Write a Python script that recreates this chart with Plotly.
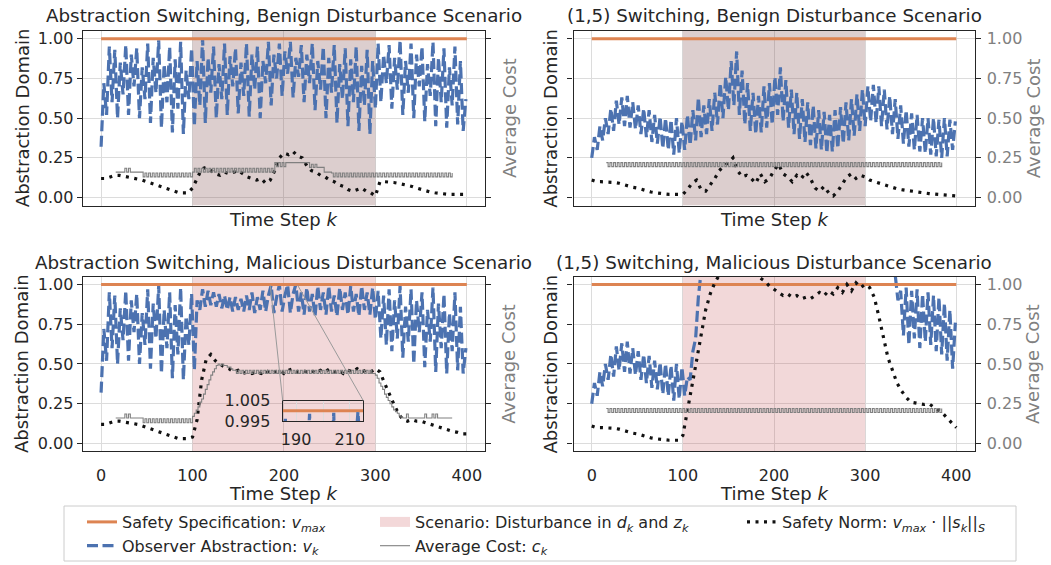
import plotly.graph_objects as go

# ---------------- data ----------------
k_blue = list(range(0, 401, 3))      # observer abstraction sampled every 3 steps
k_norm = list(range(0, 401, 5))      # safety norm sampled every 5 steps
k_cost = list(range(16, 385, 2))     # average cost sampled every 2 steps
spec_k = [0, 400]
spec_v = [1.0, 1.0]
scenario_k = [100, 300]
x_ticks = [0, 100, 200, 300, 400]
y_ticks = [0.0, 0.25, 0.5, 0.75, 1.0]
y_ticktext = ["0.00", "0.25", "0.50", "0.75", "1.00"]
inset_x_ticks = [190, 210]
inset_x_text = ["190", "210"]
inset_x_grid = [190, 200, 210]
inset_y_ticks = [0.995, 1.005]
inset_y_text = ["0.995", "1.005"]

blue_as_benign = [
    0.32, 0.72, 0.52, 0.95, 0.60, 0.93, 0.50, 0.85, 0.65, 0.96,
    0.52, 0.90, 0.70, 0.94, 0.50, 0.82, 0.62, 0.97, 0.47, 0.88,
    0.66, 0.99, 0.44, 0.84, 0.60, 0.95, 0.41, 0.87, 0.56, 0.98,
    0.40, 0.80, 0.62, 0.94, 0.45, 0.86, 0.58, 1.00, 0.47, 0.88,
    0.66, 0.95, 0.50, 0.84, 0.62, 0.97, 0.52, 0.89, 0.70, 0.94,
    0.53, 0.85, 0.64, 0.97, 0.51, 0.90, 0.68, 0.95, 0.50, 0.86,
    0.72, 0.98, 0.58, 0.90, 0.75, 0.97, 0.64, 0.92, 0.78, 0.98,
    0.63, 0.88, 0.76, 0.96, 0.60, 0.90, 0.72, 0.97, 0.55, 0.86,
    0.68, 0.95, 0.50, 0.88, 0.66, 0.96, 0.47, 0.84, 0.62, 0.94,
    0.45, 0.87, 0.60, 0.95, 0.42, 0.83, 0.58, 0.93, 0.40, 0.86,
    0.56, 0.97, 0.60, 0.90, 0.72, 0.96, 0.56, 0.88, 0.68, 0.99,
    0.52, 0.86, 0.66, 0.97, 0.50, 0.90, 0.70, 0.95, 0.48, 0.84,
    0.64, 0.98, 0.45, 0.88, 0.60, 0.94, 0.44, 0.82, 0.58, 0.95,
    0.46, 0.86, 0.42, 0.62,
]
blue_15_benign = [
    0.25, 0.38, 0.30, 0.45, 0.36, 0.50, 0.40, 0.56, 0.42, 0.61,
    0.46, 0.63, 0.45, 0.64, 0.44, 0.60, 0.43, 0.58, 0.40, 0.56,
    0.38, 0.55, 0.35, 0.52, 0.34, 0.51, 0.31, 0.50, 0.30, 0.49,
    0.27, 0.50, 0.28, 0.48, 0.30, 0.52, 0.33, 0.55, 0.36, 0.63,
    0.38, 0.58, 0.40, 0.62, 0.42, 0.66, 0.46, 0.72, 0.50, 0.76,
    0.55, 0.86, 0.58, 0.92, 0.52, 0.80, 0.46, 0.72, 0.42, 0.66,
    0.40, 0.64, 0.41, 0.70, 0.44, 0.72, 0.46, 0.76, 0.52, 0.82,
    0.48, 0.74, 0.44, 0.68, 0.40, 0.66, 0.37, 0.62, 0.35, 0.60,
    0.33, 0.58, 0.31, 0.55, 0.30, 0.54, 0.28, 0.52, 0.29, 0.55,
    0.31, 0.57, 0.34, 0.60, 0.36, 0.62, 0.39, 0.65, 0.42, 0.68,
    0.45, 0.70, 0.48, 0.71, 0.47, 0.70, 0.45, 0.68, 0.43, 0.64,
    0.40, 0.62, 0.37, 0.58, 0.34, 0.55, 0.32, 0.53, 0.30, 0.52,
    0.29, 0.50, 0.28, 0.50, 0.27, 0.50, 0.26, 0.49, 0.25, 0.50,
    0.26, 0.49, 0.30, 0.48,
]
blue_as_malicious = [
    0.32, 0.72, 0.52, 0.95, 0.60, 0.93, 0.50, 0.85, 0.65, 0.96,
    0.52, 0.90, 0.70, 0.94, 0.50, 0.82, 0.62, 0.97, 0.47, 0.88,
    0.66, 0.99, 0.44, 0.84, 0.60, 0.95, 0.41, 0.87, 0.56, 0.98,
    0.40, 0.80, 0.62, 0.94, 0.46, 0.90, 0.84, 0.97, 0.86, 0.96,
    0.87, 0.95, 0.86, 0.94, 0.85, 0.93, 0.84, 0.92, 0.83, 0.92,
    0.84, 0.91, 0.83, 0.93, 0.84, 0.95, 0.82, 0.92, 0.84, 0.96,
    0.83, 0.93, 0.996, 0.82, 0.92, 0.9985, 0.83, 0.93, 0.999, 0.82,
    0.94, 0.9995, 0.83, 0.95, 0.81, 0.98, 0.83, 0.94, 0.80, 0.99,
    0.84, 0.95, 0.81, 0.99, 0.83, 0.93, 0.80, 0.98, 0.84, 0.95,
    0.81, 0.99, 0.83, 0.94, 0.80, 0.99, 0.84, 0.95, 0.81, 0.98,
    0.78, 0.96, 0.66, 0.93, 0.62, 0.97, 0.58, 0.90, 0.66, 0.99,
    0.54, 0.86, 0.64, 0.97, 0.50, 0.90, 0.70, 0.95, 0.48, 0.84,
    0.64, 0.98, 0.45, 0.88, 0.60, 0.94, 0.44, 0.82, 0.58, 0.95,
    0.46, 0.86, 0.44, 0.60,
]
blue_15_malicious = [
    0.25, 0.38, 0.30, 0.45, 0.36, 0.50, 0.40, 0.56, 0.42, 0.61,
    0.46, 0.63, 0.45, 0.64, 0.44, 0.60, 0.43, 0.58, 0.40, 0.56,
    0.38, 0.55, 0.35, 0.52, 0.34, 0.51, 0.31, 0.50, 0.30, 0.49,
    0.27, 0.50, 0.28, 0.48, 0.30, 0.42, 0.40, 0.58, 0.66, 0.92,
    1.08, 1.20, 1.30, 1.38, 1.45, 1.50, 1.55, 1.58, 1.60, 1.62,
    1.64, 1.66, 1.68, 1.70, 1.70, 1.71, 1.72, 1.72, 1.72, 1.72,
    1.72, 1.71, 1.70, 1.70, 1.69, 1.68, 1.66, 1.65, 1.64, 1.62,
    1.60, 1.58, 1.56, 1.55, 1.54, 1.52, 1.50, 1.48, 1.46, 1.45,
    1.44, 1.42, 1.40, 1.39, 1.38, 1.37, 1.36, 1.35, 1.34, 1.33,
    1.32, 1.31, 1.30, 1.29, 1.28, 1.27, 1.26, 1.25, 1.24, 1.23,
    1.22, 1.21, 1.20, 1.19, 1.18, 1.17, 1.16, 1.15, 1.14, 1.12,
    1.12, 1.06, 0.90, 0.96, 0.68, 0.98, 0.62, 0.96, 0.66, 0.97,
    0.60, 0.94, 0.64, 0.95, 0.62, 0.93, 0.58, 0.92, 0.56, 0.88,
    0.52, 0.84, 0.47, 0.76,
]

norm_as_benign = [
    0.12, 0.12, 0.13, 0.14, 0.14, 0.135, 0.13, 0.125, 0.12, 0.11,
    0.10, 0.09, 0.08, 0.065, 0.055, 0.045, 0.035, 0.03, 0.03, 0.03,
    0.06, 0.12, 0.18, 0.19, 0.17, 0.15, 0.14, 0.16, 0.15, 0.16,
    0.17, 0.15, 0.13, 0.12, 0.11, 0.12, 0.09, 0.11, 0.17, 0.25,
    0.28, 0.27, 0.29, 0.26, 0.25, 0.20, 0.17, 0.16, 0.14, 0.13,
    0.11, 0.10, 0.08, 0.07, 0.05, 0.04, 0.05, 0.06, 0.04, 0.03,
    0.01, 0.10, 0.10, 0.10, 0.095, 0.09, 0.085, 0.08, 0.07, 0.06,
    0.05, 0.04, 0.035, 0.03, 0.025, 0.02, 0.02, 0.02, 0.02, 0.02,
    0.02,
]
norm_15_benign = [
    0.11, 0.10, 0.10, 0.10, 0.10, 0.095, 0.09, 0.08, 0.075, 0.065,
    0.06, 0.05, 0.045, 0.035, 0.03, 0.025, 0.02, 0.02, 0.02, 0.02,
    0.02, 0.05, 0.09, 0.11, 0.05, 0.04, 0.08, 0.12, 0.17, 0.20,
    0.22, 0.25, 0.17, 0.13, 0.14, 0.12, 0.09, 0.15, 0.10, 0.12,
    0.17, 0.21, 0.15, 0.13, 0.10, 0.14, 0.12, 0.16, 0.12, 0.06,
    0.04, 0.07, 0.03, 0.01, 0.04, 0.09, 0.13, 0.15, 0.12, 0.14,
    0.13, 0.11, 0.10, 0.09, 0.08, 0.07, 0.065, 0.055, 0.05, 0.045,
    0.04, 0.035, 0.03, 0.028, 0.025, 0.022, 0.02, 0.018, 0.015, 0.012,
    0.01,
]
norm_as_malicious = [
    0.12, 0.12, 0.13, 0.14, 0.14, 0.135, 0.13, 0.125, 0.12, 0.11,
    0.10, 0.09, 0.08, 0.065, 0.055, 0.045, 0.035, 0.03, 0.03, 0.03,
    0.04, 0.15, 0.40, 0.53, 0.56, 0.52, 0.50, 0.48, 0.47, 0.45,
    0.46, 0.44, 0.45, 0.44, 0.45, 0.44, 0.46, 0.44, 0.45, 0.46,
    0.44, 0.46, 0.47, 0.45, 0.46, 0.45, 0.46, 0.44, 0.46, 0.45,
    0.47, 0.45, 0.46, 0.44, 0.46, 0.45, 0.47, 0.45, 0.46, 0.45,
    0.47, 0.45, 0.38, 0.31, 0.25, 0.19, 0.15, 0.14, 0.15, 0.14,
    0.14, 0.13, 0.12, 0.11, 0.10, 0.09, 0.08, 0.075, 0.07, 0.06,
    0.06,
]
norm_15_malicious = [
    0.11, 0.10, 0.10, 0.10, 0.10, 0.095, 0.09, 0.08, 0.075, 0.065,
    0.06, 0.05, 0.045, 0.035, 0.03, 0.025, 0.02, 0.02, 0.02, 0.02,
    0.05, 0.20, 0.36, 0.52, 0.68, 0.84, 0.94, 1.01, 1.06, 1.10,
    1.14, 1.17, 1.19, 1.19, 1.16, 1.12, 1.08, 1.04, 1.02, 0.99,
    0.97, 0.95, 0.93, 0.94, 0.92, 0.93, 0.91, 0.92, 0.91, 0.93,
    0.95, 0.93, 0.96, 0.94, 0.98, 0.95, 1.00, 0.96, 1.01, 0.98,
    1.00, 0.98, 0.92, 0.80, 0.66, 0.54, 0.46, 0.38, 0.33, 0.29,
    0.26, 0.255, 0.25, 0.245, 0.25, 0.23, 0.21, 0.19, 0.16, 0.13,
    0.10,
]

cost_as_benign = [
    0.16, 0.16, 0.16, 0.16, 0.16, 0.185, 0.16, 0.185, 0.16, 0.16,
    0.16, 0.16, 0.16, 0.16, 0.16, 0.13, 0.155, 0.13, 0.155, 0.13,
    0.155, 0.13, 0.155, 0.13, 0.155, 0.13, 0.155, 0.13, 0.155, 0.13,
    0.155, 0.13, 0.155, 0.13, 0.155, 0.13, 0.155, 0.13, 0.155, 0.13,
    0.155, 0.13, 0.16, 0.185, 0.16, 0.185, 0.16, 0.185, 0.16, 0.185,
    0.16, 0.185, 0.16, 0.185, 0.16, 0.185, 0.16, 0.185, 0.16, 0.185,
    0.16, 0.185, 0.16, 0.185, 0.16, 0.185, 0.16, 0.185, 0.16, 0.185,
    0.16, 0.185, 0.16, 0.185, 0.16, 0.185, 0.16, 0.185, 0.16, 0.185,
    0.16, 0.185, 0.16, 0.185, 0.16, 0.185, 0.16, 0.22, 0.195, 0.22,
    0.195, 0.22, 0.195, 0.22, 0.22, 0.22, 0.22, 0.22, 0.22, 0.22,
    0.22, 0.22, 0.22, 0.22, 0.22, 0.22, 0.19, 0.21, 0.19, 0.21,
    0.19, 0.19, 0.19, 0.19, 0.16, 0.16, 0.16, 0.16, 0.155, 0.13,
    0.155, 0.13, 0.155, 0.13, 0.155, 0.13, 0.155, 0.13, 0.155, 0.13,
    0.155, 0.13, 0.155, 0.13, 0.155, 0.13, 0.155, 0.13, 0.155, 0.13,
    0.155, 0.13, 0.155, 0.13, 0.155, 0.13, 0.155, 0.13, 0.155, 0.13,
    0.155, 0.13, 0.155, 0.13, 0.155, 0.13, 0.155, 0.13, 0.155, 0.13,
    0.155, 0.13, 0.155, 0.13, 0.155, 0.13, 0.155, 0.13, 0.155, 0.13,
    0.155, 0.13, 0.155, 0.13, 0.155, 0.13, 0.155, 0.13, 0.155, 0.13,
    0.155, 0.13, 0.155, 0.13, 0.155,
]
cost_15_benign = [
    0.22, 0.195, 0.22, 0.195, 0.22, 0.195, 0.22, 0.195, 0.22, 0.195,
    0.22, 0.195, 0.22, 0.195, 0.22, 0.195, 0.22, 0.195, 0.22, 0.195,
    0.22, 0.195, 0.22, 0.195, 0.22, 0.195, 0.22, 0.195, 0.22, 0.195,
    0.22, 0.195, 0.22, 0.195, 0.22, 0.195, 0.22, 0.195, 0.22, 0.195,
    0.22, 0.195, 0.22, 0.195, 0.22, 0.195, 0.22, 0.195, 0.22, 0.195,
    0.22, 0.195, 0.22, 0.195, 0.22, 0.195, 0.22, 0.195, 0.22, 0.195,
    0.22, 0.195, 0.22, 0.195, 0.22, 0.195, 0.22, 0.195, 0.22, 0.195,
    0.22, 0.195, 0.22, 0.195, 0.22, 0.195, 0.22, 0.195, 0.22, 0.195,
    0.22, 0.195, 0.22, 0.195, 0.22, 0.195, 0.22, 0.195, 0.22, 0.195,
    0.22, 0.195, 0.22, 0.195, 0.22, 0.195, 0.22, 0.195, 0.22, 0.195,
    0.22, 0.195, 0.22, 0.195, 0.22, 0.195, 0.22, 0.195, 0.22, 0.195,
    0.22, 0.195, 0.22, 0.195, 0.22, 0.195, 0.22, 0.195, 0.22, 0.195,
    0.22, 0.195, 0.22, 0.195, 0.22, 0.195, 0.22, 0.195, 0.22, 0.195,
    0.22, 0.195, 0.22, 0.195, 0.22, 0.195, 0.22, 0.195, 0.22, 0.195,
    0.22, 0.195, 0.22, 0.195, 0.22, 0.195, 0.22, 0.195, 0.22, 0.195,
    0.22, 0.195, 0.22, 0.195, 0.22, 0.195, 0.22, 0.195, 0.22, 0.195,
    0.22, 0.195, 0.22, 0.195, 0.22, 0.195, 0.22, 0.195, 0.22, 0.195,
    0.22, 0.195, 0.22, 0.195, 0.22, 0.195, 0.22, 0.195, 0.22, 0.195,
    0.22, 0.195, 0.22, 0.195, 0.22,
]
cost_as_malicious = [
    0.16, 0.16, 0.16, 0.16, 0.16, 0.185, 0.16, 0.185, 0.16, 0.16,
    0.16, 0.16, 0.16, 0.16, 0.16, 0.13, 0.155, 0.13, 0.155, 0.13,
    0.155, 0.13, 0.155, 0.13, 0.155, 0.13, 0.155, 0.13, 0.155, 0.13,
    0.155, 0.13, 0.155, 0.13, 0.155, 0.13, 0.155, 0.13, 0.155, 0.13,
    0.155, 0.13, 0.17, 0.19, 0.21, 0.23, 0.26, 0.28, 0.31, 0.34,
    0.37, 0.40, 0.43, 0.45, 0.47, 0.49, 0.50, 0.49, 0.50, 0.49,
    0.49, 0.48, 0.48, 0.47, 0.46, 0.46, 0.44, 0.46, 0.44, 0.46,
    0.44, 0.46, 0.44, 0.46, 0.44, 0.46, 0.44, 0.46, 0.44, 0.46,
    0.44, 0.46, 0.44, 0.46, 0.44, 0.46, 0.44, 0.46, 0.44, 0.46,
    0.44, 0.46, 0.44, 0.46, 0.44, 0.46, 0.44, 0.46, 0.44, 0.46,
    0.44, 0.46, 0.44, 0.46, 0.44, 0.46, 0.44, 0.46, 0.44, 0.46,
    0.44, 0.46, 0.44, 0.46, 0.44, 0.46, 0.44, 0.46, 0.44, 0.46,
    0.44, 0.46, 0.44, 0.46, 0.44, 0.46, 0.44, 0.46, 0.44, 0.46,
    0.44, 0.46, 0.44, 0.46, 0.44, 0.46, 0.44, 0.46, 0.44, 0.46,
    0.44, 0.44, 0.43, 0.41, 0.38, 0.36, 0.34, 0.31, 0.29, 0.27,
    0.25, 0.23, 0.21, 0.20, 0.19, 0.175, 0.165, 0.16, 0.16, 0.185,
    0.16, 0.16, 0.16, 0.16, 0.16, 0.16, 0.16, 0.16, 0.16, 0.185,
    0.16, 0.16, 0.16, 0.185, 0.16, 0.185, 0.16, 0.16, 0.16, 0.16,
    0.16, 0.16, 0.16, 0.16, 0.16,
]
cost_15_malicious = [
    0.22, 0.195, 0.22, 0.195, 0.22, 0.195, 0.22, 0.195, 0.22, 0.195,
    0.22, 0.195, 0.22, 0.195, 0.22, 0.195, 0.22, 0.195, 0.22, 0.195,
    0.22, 0.195, 0.22, 0.195, 0.22, 0.195, 0.22, 0.195, 0.22, 0.195,
    0.22, 0.195, 0.22, 0.195, 0.22, 0.195, 0.22, 0.195, 0.22, 0.195,
    0.22, 0.195, 0.22, 0.195, 0.22, 0.195, 0.22, 0.195, 0.22, 0.195,
    0.22, 0.195, 0.22, 0.195, 0.22, 0.195, 0.22, 0.195, 0.22, 0.195,
    0.22, 0.195, 0.22, 0.195, 0.22, 0.195, 0.22, 0.195, 0.22, 0.195,
    0.22, 0.195, 0.22, 0.195, 0.22, 0.195, 0.22, 0.195, 0.22, 0.195,
    0.22, 0.195, 0.22, 0.195, 0.22, 0.195, 0.22, 0.195, 0.22, 0.195,
    0.22, 0.195, 0.22, 0.195, 0.22, 0.195, 0.22, 0.195, 0.22, 0.195,
    0.22, 0.195, 0.22, 0.195, 0.22, 0.195, 0.22, 0.195, 0.22, 0.195,
    0.22, 0.195, 0.22, 0.195, 0.22, 0.195, 0.22, 0.195, 0.22, 0.195,
    0.22, 0.195, 0.22, 0.195, 0.22, 0.195, 0.22, 0.195, 0.22, 0.195,
    0.22, 0.195, 0.22, 0.195, 0.22, 0.195, 0.22, 0.195, 0.22, 0.195,
    0.22, 0.195, 0.22, 0.195, 0.22, 0.195, 0.22, 0.195, 0.22, 0.195,
    0.22, 0.195, 0.22, 0.195, 0.22, 0.195, 0.22, 0.195, 0.22, 0.195,
    0.22, 0.195, 0.22, 0.195, 0.22, 0.195, 0.22, 0.195, 0.22, 0.195,
    0.22, 0.195, 0.22, 0.195, 0.22, 0.195, 0.22, 0.195, 0.22, 0.195,
    0.22, 0.195, 0.22, 0.195, 0.22,
]

titles = [
    "Abstraction Switching, Benign Disturbance Scenario",
    "(1,5) Switching, Benign Disturbance Scenario",
    "Abstraction Switching, Malicious Disturbance Scenario",
    "(1,5) Switching, Malicious Disturbance Scenario",
]

for arr in (blue_as_benign, blue_15_benign, blue_as_malicious, blue_15_malicious):
    assert len(arr) == len(k_blue), len(arr)
for arr in (norm_as_benign, norm_15_benign, norm_as_malicious, norm_15_malicious):
    assert len(arr) == len(k_norm), len(arr)
for arr in (cost_as_benign, cost_15_benign, cost_as_malicious, cost_15_malicious):
    assert len(arr) == len(k_cost), len(arr)

# ---------------- style / layout ----------------
W, H = 1051, 565
FONT = "DejaVu Sans"
TXT = "#262626"
GRAY = "#808080"
GRID = "#dcdcdc"
FRAME = "#262626"
ORANGE = "#DD8452"
BLUE = "#4C72B0"
SHADE_BENIGN = "rgba(128,80,80,0.28)"
SHADE_MAL = "rgba(196,78,82,0.22)"
X_RANGE = [-20, 420]
Y_RANGE = [-0.05, 1.05]
BLUE_DASH = "11px,4.5px"
NORM_DASH = "3px,5.5px"


def px(x):
    return x / W


def py(y):
    return 1 - y / H


COL = [(82.8, 485.1), (573.5, 974.5)]
ROW = [(30.8, 205.5), (276.5, 451.4)]

panels = [
    dict(blue=blue_as_benign, norm=norm_as_benign, cost=cost_as_benign, shade=SHADE_BENIGN),
    dict(blue=blue_15_benign, norm=norm_15_benign, cost=cost_15_benign, shade=SHADE_BENIGN),
    dict(blue=blue_as_malicious, norm=norm_as_malicious, cost=cost_as_malicious, shade=SHADE_MAL),
    dict(blue=blue_15_malicious, norm=norm_15_malicious, cost=cost_15_malicious, shade=SHADE_MAL),
]

fig = go.Figure()
layout = {}
annotations = []

LEG_SPEC = "Safety Specification: <i>v</i><sub><i>max</i></sub>"
LEG_OBS = "Observer Abstraction: <i>v<sub>k</sub></i>"
LEG_SCEN = "Scenario: Disturbance in <i>d<sub>k</sub></i> and <i>z<sub>k</sub></i>"
LEG_COST = "Average Cost: <i>c<sub>k</sub></i>"
LEG_NORM = "Safety Norm: <i>v<sub>max</sub></i> \u00b7 ||<i>s<sub>k</sub></i>||<sub><i>S</i></sub>"

for p, d in enumerate(panels):
    col, row = p % 2, p // 2
    n = p + 1
    xr = "x" if n == 1 else f"x{n}"
    yr = "y" if n == 1 else f"y{n}"
    yr2 = f"y{n + 4}"
    first = p == 0

    fig.add_trace(go.Scatter(
        x=[scenario_k[0], scenario_k[1], scenario_k[1], scenario_k[0], scenario_k[0]],
        y=[Y_RANGE[0], Y_RANGE[0], Y_RANGE[1], Y_RANGE[1], Y_RANGE[0]],
        fill="toself", fillcolor=d["shade"], mode="lines", line=dict(width=0),
        hoverinfo="skip", showlegend=False, xaxis=xr, yaxis=yr))
    fig.add_trace(go.Scatter(
        x=k_blue, y=d["blue"], mode="lines",
        line=dict(color=BLUE, width=3.2, dash=BLUE_DASH),
        name=LEG_OBS, showlegend=first, legend="legend", legendgroup="g_obs", legendrank=2,
        xaxis=xr, yaxis=yr))
    fig.add_trace(go.Scatter(
        x=spec_k, y=spec_v, mode="lines", line=dict(color=ORANGE, width=3),
        name=LEG_SPEC, showlegend=first, legend="legend", legendgroup="g_spec", legendrank=1,
        xaxis=xr, yaxis=yr))
    fig.add_trace(go.Scatter(
        x=k_norm, y=d["norm"], mode="lines",
        line=dict(color="#111111", width=3.2, dash=NORM_DASH),
        name=LEG_NORM, showlegend=first, legend="legend3", legendgroup="g_norm",
        xaxis=xr, yaxis=yr))
    fig.add_trace(go.Scatter(
        x=k_cost, y=d["cost"], mode="lines",
        line=dict(color=GRAY, width=1.1, shape="hv"),
        name=LEG_COST, showlegend=first, legend="legend2", legendgroup="g_cost", legendrank=2,
        xaxis=xr, yaxis=yr2))

    xdom = [px(COL[col][0]), px(COL[col][1])]
    ydom = [py(ROW[row][1]), py(ROW[row][0])]
    layout["xaxis" if n == 1 else f"xaxis{n}"] = dict(
        domain=xdom, anchor=yr, range=X_RANGE, tickvals=x_ticks,
        showticklabels=(row == 1), ticks="", ticklabelstandoff=9,
        tickfont=dict(size=16, color=TXT),
        showgrid=True, gridcolor=GRID, gridwidth=1.2, zeroline=False,
        showline=True, mirror=True, linecolor=FRAME, linewidth=1.3)
    layout["yaxis" if n == 1 else f"yaxis{n}"] = dict(
        domain=ydom, anchor=xr, range=Y_RANGE, tickvals=y_ticks, ticktext=y_ticktext,
        showticklabels=(col == 0), ticks="outside", ticklen=5, tickwidth=1.3,
        tickcolor=FRAME, tickfont=dict(size=16, color=TXT),
        showgrid=True, gridcolor=GRID, gridwidth=1.2, zeroline=False,
        showline=True, mirror=True, linecolor=FRAME, linewidth=1.3)
    layout[f"yaxis{n + 4}"] = dict(
        overlaying=yr, side="right", anchor=xr, range=Y_RANGE, tickvals=y_ticks,
        ticktext=y_ticktext, showticklabels=(col == 1), ticks="outside", ticklen=5,
        tickwidth=1.3, tickcolor=FRAME, tickfont=dict(size=16, color=GRAY),
        ticklabelstandoff=3,
        showgrid=False, zeroline=False, showline=False)

    cx = (COL[col][0] + COL[col][1]) / 2
    cy = (ROW[row][0] + ROW[row][1]) / 2
    annotations.append(dict(text=titles[p], x=px(cx), y=py([15.5, 262][row]),
                            xref="paper", yref="paper", showarrow=False,
                            font=dict(size=18.3, color=TXT), xanchor="center", yanchor="middle"))
    annotations.append(dict(text="Time Step <i>k</i>", x=px(cx), y=py([219.7, 493.5][row]),
                            xref="paper", yref="paper", showarrow=False,
                            font=dict(size=18, color=TXT), xanchor="center", yanchor="middle"))
    annotations.append(dict(text="Abstraction Domain", x=px([22, 550.5][col]), y=py(cy),
                            xref="paper", yref="paper", showarrow=False, textangle=-90,
                            font=dict(size=18, color=TXT), xanchor="center", yanchor="middle"))
    annotations.append(dict(text="Average Cost", x=px([508.8, 1033][col]), y=py(cy),
                            xref="paper", yref="paper", showarrow=False, textangle=-90,
                            font=dict(size=18, color=GRAY), xanchor="center", yanchor="middle"))

# legend-only patch for the scenario shading
fig.add_trace(go.Scatter(
    x=[None], y=[None], mode="lines", line=dict(color="rgb(243,216,217)", width=14),
    name=LEG_SCEN, showlegend=True, legend="legend2", legendgroup="g_scen", legendrank=1,
    xaxis="x3", yaxis="y3"))

# ---------------- inset (zoom into k 185..215 near v = 1) ----------------
INSET_X = (282.7, 363.3)
INSET_Y = (400.7, 421.0)
INSET_XR = [185, 215]
INSET_YR = [0.99495, 1.00505]
fig.add_trace(go.Scatter(x=spec_k, y=spec_v, mode="lines", line=dict(color=ORANGE, width=3),
                         showlegend=False, xaxis="x5", yaxis="y9"))
fig.add_trace(go.Scatter(x=k_blue, y=blue_as_malicious, mode="lines",
                         line=dict(color=BLUE, width=3.2, dash=BLUE_DASH),
                         showlegend=False, xaxis="x5", yaxis="y9"))
layout["xaxis5"] = dict(
    domain=[px(INSET_X[0]), px(INSET_X[1])], anchor="y9", range=INSET_XR,
    tickvals=inset_x_ticks, ticktext=inset_x_text, ticks="", ticklabelstandoff=4,
    tickfont=dict(size=16, color=TXT), showgrid=True, gridcolor=GRID, gridwidth=1.2,
    minor=dict(tickvals=inset_x_grid, showgrid=True, gridcolor=GRID, gridwidth=1.2, ticks=""),
    zeroline=False, showline=True, mirror=True, linecolor=FRAME, linewidth=1.3)
layout["yaxis9"] = dict(
    domain=[py(INSET_Y[1]), py(INSET_Y[0])], anchor="x5", range=INSET_YR,
    tickvals=inset_y_ticks, ticktext=inset_y_text, ticks="", ticklabelstandoff=8,
    tickfont=dict(size=16, color=TXT), showgrid=False, zeroline=False,
    showline=True, mirror=True, linecolor=FRAME, linewidth=1.3)


# connector lines from the zoomed region of panel 3 to the inset corners
def to_px_x(k):
    return COL[0][0] + (k - X_RANGE[0]) / (X_RANGE[1] - X_RANGE[0]) * (COL[0][1] - COL[0][0])


def to_px_y(v):
    return ROW[1][1] - (v - Y_RANGE[0]) / (Y_RANGE[1] - Y_RANGE[0]) * (ROW[1][1] - ROW[1][0])


shapes = [
    dict(type="line", xref="paper", yref="paper",
         x0=px(to_px_x(INSET_XR[0])), y0=py(to_px_y(INSET_YR[0])),
         x1=px(INSET_X[0]), y1=py(INSET_Y[0]), line=dict(color="#9a9a9a", width=1)),
    dict(type="line", xref="paper", yref="paper",
         x0=px(to_px_x(INSET_XR[1])), y0=py(to_px_y(INSET_YR[0])),
         x1=px(INSET_X[1]), y1=py(INSET_Y[0]), line=dict(color="#9a9a9a", width=1)),
    dict(type="rect", xref="paper", yref="paper", layer="below",
         x0=px(64), x1=px(1016), y0=py(561), y1=py(506),
         line=dict(color="#cccccc", width=1), fillcolor="white"),
]

leg_common = dict(xanchor="left", yanchor="top", orientation="v", bgcolor="rgba(0,0,0,0)",
                  borderwidth=0, font=dict(size=16, color=TXT, family=FONT),
                  tracegroupgap=4, traceorder="normal")

fig.update_layout(
    template="none",
    width=W, height=H,
    margin=dict(l=0, r=0, t=0, b=0, pad=0),
    paper_bgcolor="white", plot_bgcolor="rgba(0,0,0,0)",
    font=dict(family=FONT, size=16, color=TXT),
    showlegend=True,
    legend=dict(x=px(82), y=py(505), **leg_common),
    legend2=dict(x=px(375), y=py(505), **leg_common),
    legend3=dict(x=px(742), y=py(505), **leg_common),
    annotations=annotations,
    shapes=shapes,
    **layout,
)

fig.write_html("out.html", config={"displayModeBar": False},
               post_script="document.body.style.margin='0';")
